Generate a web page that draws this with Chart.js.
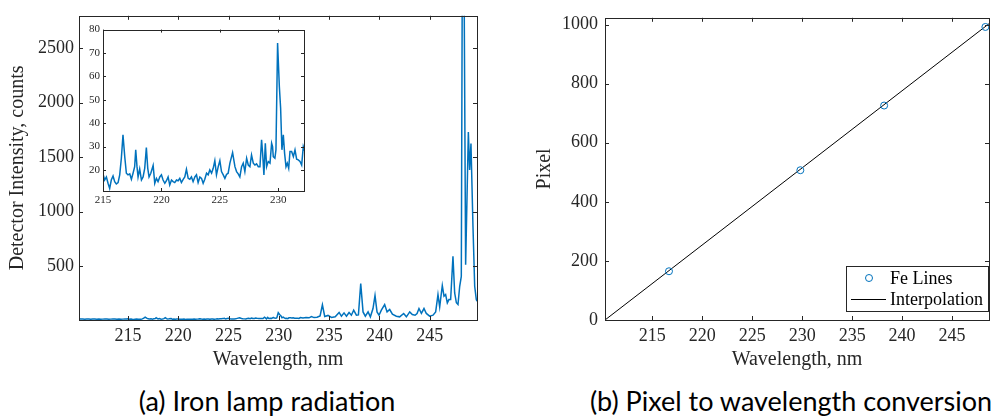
<!DOCTYPE html>
<html>
<head>
<meta charset="utf-8">
<script src="https://cdn.jsdelivr.net/npm/chart.js@4/dist/chart.umd.min.js"></script>
<style>
  body { margin: 0; background: #fff; }
  #page { position: relative; width: 994px; height: 419px; overflow: hidden; background: #fff; }
  canvas { position: absolute; }
  #spectrum { left: 0; top: 0; }
  #inset { left: 60px; top: 20px; }
  #calib { left: 500px; top: 0; }
  .caption {
    position: absolute; top: 386px; width: 440px; text-align: center; white-space: nowrap;
    font-family: Lato, "Open Sans", sans-serif; font-size: 27px; line-height: 30px; color: #000;
  }
</style>
</head>
<body>
<div id="page">
  <canvas id="spectrum" width="490" height="380"></canvas>
  <canvas id="inset" width="250" height="200"></canvas>
  <canvas id="calib" width="494" height="380"></canvas>
  <div class="caption" style="left:47px">(a) Iron lamp radiation</div>
  <div class="caption" style="left:571px">(b) Pixel to wavelength conversion</div>
</div>
<script>
// lamp spectrum, wavelength in nm and detector counts
const wavelength = [
  210.13, 210.3, 210.5, 210.7, 210.9, 211.1, 211.3, 211.5, 211.7, 211.9,
  212.1, 212.3, 212.5, 212.7, 212.9, 213.1, 213.3, 213.5, 213.7, 213.9,
  214.1, 214.3, 214.5, 214.7, 214.85,
  215.0, 215.14, 215.29, 215.43, 215.57, 215.71, 215.86, 216.0, 216.14, 216.29,
  216.43, 216.57, 216.71, 216.86, 217.0, 217.14, 217.29, 217.43, 217.57, 217.71,
  217.8, 217.91, 218.0, 218.14, 218.29, 218.43, 218.57, 218.71, 218.83, 218.94,
  219.09, 219.29, 219.43, 219.57, 219.71, 219.86, 220.0, 220.14, 220.29, 220.43,
  220.57, 220.71, 220.86, 221.0, 221.14, 221.29, 221.43, 221.57, 221.71, 221.86,
  222.0, 222.14, 222.29, 222.43, 222.57, 222.71, 222.86, 223.0, 223.14, 223.29,
  223.43, 223.57, 223.71, 223.86, 224.0, 224.14, 224.29, 224.43, 224.57, 224.71,
  224.86, 225.0, 225.14, 225.29, 225.43, 225.57, 225.71, 225.86, 226.09, 226.29,
  226.43, 226.57, 226.71, 226.86, 227.0, 227.14, 227.29, 227.43, 227.57, 227.71,
  227.86, 228.0, 228.14, 228.29, 228.43, 228.57, 228.66, 228.77, 228.89, 229.0,
  229.14, 229.29, 229.43, 229.51, 229.57, 229.71, 229.8, 229.94, 230.09, 230.2,
  230.31, 230.43, 230.54, 230.66, 230.77, 230.89, 231.0, 231.14, 231.29, 231.43,
  231.57, 231.71, 231.86, 232.0, 232.14,
  232.4, 232.7, 233.0, 233.24, 233.5, 233.8, 234.1, 234.33, 234.56, 234.89,
  235.23, 235.6, 235.99, 236.22, 236.48, 236.72, 236.98, 237.21, 237.44, 237.71,
  237.91, 238.14, 238.37, 238.6, 238.87, 239.1, 239.36, 239.56, 239.76, 239.96,
  240.19, 240.52, 240.76, 241.02, 241.29, 241.68, 242.01, 242.41, 242.68, 243.01,
  243.27, 243.54, 243.74, 243.93, 244.17, 244.43, 244.66, 244.99, 245.33, 245.59,
  245.82, 245.99, 246.25, 246.42, 246.58, 246.75, 246.91, 247.08, 247.31, 247.48,
  247.65, 247.81, 247.98, 248.14, 248.22, 248.32, 248.44, 248.57, 248.84, 248.97,
  249.1, 249.3, 249.47, 249.63, 249.7
];
const counts = [
  19, 17, 18, 16, 18, 17, 15, 17, 18, 16,
  17, 15, 16, 18, 17, 15, 16, 18, 17, 16,
  17, 15, 16, 18, 17,
  18.3, 15.7, 17, 14.3, 12.1, 15.7, 17.4, 15, 14, 14.6,
  17.9, 25, 35, 25.7, 18.6, 17.9, 18.3, 16, 18.6, 21.4,
  28.6, 21.4, 17, 20.4, 15.7, 17, 20.7, 29.6, 20.7, 17,
  18.6, 21.9, 14.3, 16.4, 15, 17, 17.9, 15.7, 14.3, 15.4,
  17, 13.6, 15.7, 15, 14.6, 15.7, 15.4, 16.4, 14.6, 16,
  17, 20.3, 16.4, 16, 17, 15, 17, 17.9, 14.6, 17,
  16.4, 14.3, 16, 18.6, 17.9, 20, 18.6, 20.7, 24, 17.9,
  21.4, 24, 19.3, 17.9, 16.4, 18.1, 18.6, 22.9, 27.4, 21.4,
  19.3, 18.3, 17, 21.4, 22.9, 19.3, 25, 22.1, 21.4, 26.4,
  22.9, 22.1, 22.6, 21.4, 21.4, 32.9, 27.1, 17.9, 31.4, 21.4,
  23.6, 22.9, 31.4, 30, 25.7, 25, 28.6, 74.3, 55.7, 46.4,
  28.6, 35, 27.1, 21.4, 22.9, 20.7, 27.9, 27.9, 25.7, 28.6,
  24.6, 24.3, 23.6, 22.1, 30,
  26, 30, 28, 40, 30, 33, 45, 147, 40, 50,
  32, 38, 77, 43, 73, 43, 77, 52, 98, 52,
  55, 342, 82, 43, 82, 37, 113, 232, 82, 52,
  98, 150, 82, 104, 61, 43, 37, 68, 37, 82,
  58, 52, 68, 113, 68, 113, 68, 43, 52, 82,
  241, 128, 324, 226, 241, 165, 195, 195, 591, 256,
  166, 150, 317, 408, 2700, 5200, 2700, 515, 1731, 1382,
  1625, 865, 317, 196, 180
];

// calibration: Fe emission lines found on the detector
const feLineNm = [216.68, 229.82, 238.20, 248.33];
const feLinePixel = [165, 507, 726, 992];
const fitNm = [210.28, 248.69];
const fitPixel = [0, 1003];

const spectrumXTicks = [215, 220, 225, 230, 235, 240, 245];
const spectrumYTicks = [500, 1000, 1500, 2000, 2500];
const insetXTicks = [215, 220, 225, 230];
const insetYTicks = [20, 30, 40, 50, 60, 70, 80];
const calibXTicks = [215, 220, 225, 230, 235, 240, 245];
const calibYTicks = [0, 200, 400, 600, 800, 1000];

const BLUE = '#0072BD';
const AXIS = '#262626';
const SERIF = '"Liberation Serif", "DejaVu Serif", serif';

const spectrumPoints = wavelength.map((w, i) => ({ x: w, y: counts[i] }));

const serif = size => ({ family: SERIF, size: size });
const plain = v => String(v);

// box around the plot with inward tick marks on all four sides
const boxTicks = {
  id: 'boxTicks',
  afterDatasetsDraw(chart, args, opts) {
    const { ctx, chartArea: a, scales: { x, y } } = chart;
    const len = opts.length || 4;
    ctx.save();
    ctx.strokeStyle = AXIS;
    ctx.lineWidth = 1;
    ctx.beginPath();
    x.ticks.forEach(t => {
      const px = Math.round(x.getPixelForValue(t.value)) + 0.5;
      ctx.moveTo(px, a.bottom); ctx.lineTo(px, a.bottom - len);
      ctx.moveTo(px, a.top); ctx.lineTo(px, a.top + len);
    });
    y.ticks.forEach(t => {
      const py = Math.round(y.getPixelForValue(t.value)) + 0.5;
      ctx.moveTo(a.left, py); ctx.lineTo(a.left + len, py);
      ctx.moveTo(a.right, py); ctx.lineTo(a.right - len, py);
    });
    ctx.stroke();
    ctx.strokeRect(Math.round(a.left) + 0.5, Math.round(a.top) + 0.5,
      Math.round(a.right - a.left), Math.round(a.bottom - a.top));
    ctx.restore();
  }
};

// legend box in the lower right corner of the plot
const cornerLegend = {
  id: 'cornerLegend',
  afterDraw(chart) {
    const { ctx, chartArea: a } = chart;
    const w = 142, h = 45;
    const left = a.right - 1 - w, top = a.bottom - 9 - h;
    ctx.save();
    ctx.fillStyle = '#fff';
    ctx.fillRect(left, top, w, h);
    ctx.strokeStyle = AXIS;
    ctx.lineWidth = 1;
    ctx.strokeRect(Math.round(left) + 0.5, Math.round(top) + 0.5, w, h);
    ctx.font = '18px ' + SERIF;
    ctx.fillStyle = '#000';
    ctx.textBaseline = 'middle';
    chart.data.datasets.forEach((ds, i) => {
      const cy = top + 12 + i * 21;
      ctx.strokeStyle = ds.borderColor;
      ctx.beginPath();
      if (ds.showLine === false) {
        ctx.arc(left + 23, cy, ds.pointRadius, 0, Math.PI * 2);
      } else {
        ctx.moveTo(left + 5, cy + 0.5); ctx.lineTo(left + 40, cy + 0.5);
      }
      ctx.stroke();
      ctx.fillText(ds.label, left + 44, cy + 1);
    });
    ctx.restore();
  }
};

function fixedTicks(values) {
  return scale => { scale.ticks = values.map(v => ({ value: v })); };
}
function fitWidth(px) { return scale => { scale.width = px; }; }
function fitHeight(px) { return scale => { scale.height = px; }; }

Chart.defaults.font.family = SERIF;
Chart.defaults.color = AXIS;
Chart.defaults.animation = false;

new Chart(document.getElementById('spectrum'), {
  type: 'line',
  data: {
    datasets: [{
      data: spectrumPoints,
      borderColor: BLUE,
      borderWidth: 1.5,
      pointRadius: 0,
      tension: 0
    }]
  },
  options: {
    responsive: false,
    devicePixelRatio: 1,
    layout: { padding: { top: 15, right: 13, left: 0, bottom: 0 } },
    plugins: { legend: { display: false }, tooltip: { enabled: false }, boxTicks: { length: 4 } },
    scales: {
      x: {
        type: 'linear', min: 210.13, max: 249.7,
        afterBuildTicks: fixedTicks(spectrumXTicks),
        afterFit: fitHeight(60),
        grid: { display: false, drawTicks: false },
        border: { display: false },
        ticks: { padding: 5, font: serif(18), color: AXIS, callback: plain },
        title: { display: true, text: 'Wavelength, nm', font: serif(20), color: AXIS, padding: { bottom: 8 } }
      },
      y: {
        type: 'linear', min: 8, max: 2795,
        afterBuildTicks: fixedTicks(spectrumYTicks),
        afterFit: fitWidth(79),
        grid: { display: false, drawTicks: false },
        border: { display: false },
        ticks: { padding: 5, font: serif(18), color: AXIS, callback: plain },
        title: { display: true, text: 'Detector Intensity, counts', font: serif(20), color: AXIS, padding: { top: 6 } }
      }
    }
  },
  plugins: [boxTicks]
});

new Chart(document.getElementById('inset'), {
  type: 'line',
  data: {
    datasets: [{
      data: spectrumPoints,
      borderColor: BLUE,
      borderWidth: 1.5,
      pointRadius: 0,
      tension: 0
    }]
  },
  options: {
    responsive: false,
    devicePixelRatio: 1,
    layout: { padding: { top: 9, right: 6, left: 0, bottom: 0 } },
    plugins: { legend: { display: false }, tooltip: { enabled: false }, boxTicks: { length: 3 } },
    scales: {
      x: {
        type: 'linear', min: 215, max: 232.2,
        afterBuildTicks: fixedTicks(insetXTicks),
        afterFit: fitHeight(29),
        grid: { display: false, drawTicks: false },
        border: { display: false },
        ticks: { padding: 3, font: serif(11), color: AXIS, callback: plain }
      },
      y: {
        type: 'linear', min: 11, max: 80,
        afterBuildTicks: fixedTicks(insetYTicks),
        afterFit: fitWidth(43),
        grid: { display: false, drawTicks: false },
        border: { display: false },
        ticks: { padding: 3, font: serif(11), color: AXIS, callback: plain }
      }
    }
  },
  plugins: [{
    id: 'insetBackground',
    beforeDatasetsDraw(chart) {
      const { ctx, chartArea: a } = chart;
      ctx.save();
      ctx.fillStyle = '#fff';
      ctx.fillRect(a.left, a.top, a.right - a.left, a.bottom - a.top);
      ctx.restore();
    }
  }, boxTicks]
});

new Chart(document.getElementById('calib'), {
  type: 'scatter',
  data: {
    datasets: [{
      label: 'Fe Lines',
      data: feLineNm.map((w, i) => ({ x: w, y: feLinePixel[i] })),
      showLine: false,
      borderColor: BLUE,
      backgroundColor: 'rgba(0,0,0,0)',
      borderWidth: 1,
      pointRadius: 3.5,
      pointStyle: 'circle',
      order: 0
    }, {
      label: 'Interpolation',
      data: fitNm.map((w, i) => ({ x: w, y: fitPixel[i] })),
      showLine: true,
      borderColor: '#000',
      borderWidth: 1,
      pointRadius: 0,
      order: 1
    }]
  },
  options: {
    responsive: false,
    devicePixelRatio: 1,
    layout: { padding: { top: 16, right: 1, left: 0, bottom: 0 } },
    plugins: { legend: { display: false }, tooltip: { enabled: false }, boxTicks: { length: 4 } },
    scales: {
      x: {
        type: 'linear', min: 210.28, max: 248.69,
        afterBuildTicks: fixedTicks(calibXTicks),
        afterFit: fitHeight(60),
        grid: { display: false, drawTicks: false },
        border: { display: false },
        ticks: { padding: 5, font: serif(18), color: AXIS, callback: plain },
        title: { display: true, text: 'Wavelength, nm', font: serif(20), color: AXIS, padding: { bottom: 8 } }
      },
      y: {
        type: 'linear', min: 0, max: 1023,
        afterBuildTicks: fixedTicks(calibYTicks),
        afterFit: fitWidth(105),
        grid: { display: false, drawTicks: false },
        border: { display: false },
        ticks: { padding: 7, font: serif(18), color: AXIS, callback: plain },
        title: { display: true, text: 'Pixel', font: serif(20), color: AXIS, padding: { top: 33 } }
      }
    }
  },
  plugins: [boxTicks, cornerLegend]
});
</script>
</body>
</html>
